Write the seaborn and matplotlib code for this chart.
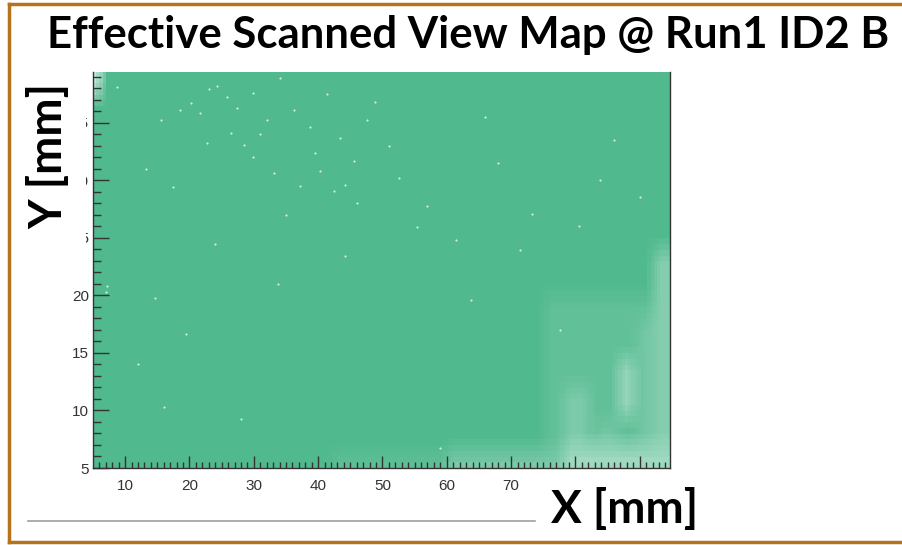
import numpy as np
import pandas as pd
import seaborn as sns
import matplotlib.pyplot as plt
from matplotlib.colors import LinearSegmentedColormap
from matplotlib.patches import Rectangle
from matplotlib.lines import Line2D

# Scan area and binning (mm)
X_RANGE = (5.0, 94.7)
Y_RANGE = (5.0, 39.4)
BIN_MM = 0.5

# Zones with reduced view coverage: x0, x1, y0, y1, fraction covered
zone_x0 = [75.0, 92.0, 89.5, 86.5, 78.0, 42.0, 60.0, 78.0, 83.0, 5.0]
zone_x1 = [94.7, 94.7, 92.0, 89.0, 82.0, 60.0, 78.0, 94.7, 86.5, 5.8]
zone_y0 = [5.0, 5.0, 5.0, 9.5, 5.4, 5.0, 5.0, 5.0, 6.0, 37.4]
zone_y1 = [20.0, 24.0, 18.0, 14.5, 11.8, 6.2, 6.5, 7.0, 9.0, 39.4]
zone_cov = [0.9, 0.7, 0.8, 0.6, 0.75, 0.88, 0.75, 0.55, 0.8, 0.0]

# Isolated missing views (mm)
speck_x = [8.8, 13.2, 37.2, 18.6, 20.2, 21.7, 24.3, 25.9, 27.4, 29.9, 32.1, 34.1,
           36.2, 38.8, 41.4, 43.4, 45.5, 47.6, 22.7, 26.4, 29.9, 33.1, 40.3, 42.4,
           46.1, 17.5, 15.5, 73.3, 44.1, 55.4, 44.1, 14.7, 28.0, 16.0, 59.0, 71.4,
           63.8, 83.8, 77.6, 7.0, 7.2, 51.0, 66.0, 35.0, 24.0, 31.0, 28.5, 23.0,
           39.5, 48.8, 52.5, 57.0, 61.5, 68.0, 80.5, 86.0, 90.0, 12.0, 19.5, 33.8]
speck_y = [38.1, 31.0, 29.5, 36.1, 36.7, 35.8, 38.2, 37.2, 36.3, 37.6, 35.2, 38.9,
           36.1, 34.6, 37.5, 33.7, 31.7, 35.2, 33.2, 34.1, 32.0, 30.6, 30.8, 29.1,
           28.0, 29.4, 35.2, 27.1, 29.6, 25.9, 23.4, 19.8, 9.3, 10.3, 6.7, 23.9,
           19.6, 30.0, 17.0, 20.3, 20.8, 33.0, 35.5, 27.0, 24.5, 34.0, 33.1, 37.9,
           32.4, 36.8, 30.2, 27.8, 24.8, 31.5, 26.0, 33.5, 28.5, 14.0, 16.6, 21.0]

x_ticks = [10, 20, 30, 40, 50, 60, 70, 80, 90]
x_tick_labels = ["10", "20", "30", "40", "50", "60", "70", "", ""]
y_ticks = [5, 10, 15, 20, 25, 30, 35]

GREEN = "#50B98D"
FRAME = "#B5731E"


def box_smooth(a, k):
    """Separable moving-average filter that keeps the grid size."""
    ker = np.ones(k)
    norm_x = np.convolve(np.ones(a.shape[0]), ker, mode="same")
    norm_y = np.convolve(np.ones(a.shape[1]), ker, mode="same")
    a = np.apply_along_axis(lambda v: np.convolve(v, ker, mode="same"), 0, a) / norm_x[:, None]
    a = np.apply_along_axis(lambda v: np.convolve(v, ker, mode="same"), 1, a) / norm_y[None, :]
    return a


# Build the coverage grid
nx = int(round((X_RANGE[1] - X_RANGE[0]) / BIN_MM))
ny = int(round((Y_RANGE[1] - Y_RANGE[0]) / BIN_MM))
x_edges = np.linspace(*X_RANGE, nx + 1)
y_edges = np.linspace(*Y_RANGE, ny + 1)
xc = 0.5 * (x_edges[:-1] + x_edges[1:])
yc = 0.5 * (y_edges[:-1] + y_edges[1:])
gx, gy = np.meshgrid(xc, yc, indexing="ij")
cov = np.ones_like(gx)
for x0, x1, y0, y1, c in zip(zone_x0, zone_x1, zone_y0, zone_y1, zone_cov):
    inside = (gx >= x0) & (gx <= x1) & (gy >= y0) & (gy <= y1)
    cov[inside] = np.minimum(cov[inside], c)
cov = box_smooth(cov, 5)
grid = pd.DataFrame({"x": gx.ravel(), "y": gy.ravel(), "coverage": cov.ravel()})
specks = pd.DataFrame({"x": speck_x, "y": speck_y})

cmap = LinearSegmentedColormap.from_list("cov", ["white", GREEN])

fig = plt.figure(figsize=(9.02, 5.45), dpi=100)
W, H = 902, 545
ax = fig.add_axes([93 / W, 1 - 468 / H, (670 - 93) / W, (468 - 72) / H])

sns.histplot(data=grid, x="x", y="y", weights="coverage", bins=(nx, ny),
             binrange=(X_RANGE, Y_RANGE), cmap=cmap, vmin=0, vmax=1,
             thresh=0, ax=ax)
sns.scatterplot(data=specks, x="x", y="y", color="white", s=2.5, alpha=0.75,
                linewidth=0, ax=ax)

ax.set_xlim(*X_RANGE)
ax.set_ylim(*Y_RANGE)
ax.set_xlabel("")
ax.set_ylabel("")
ax.set_xticks(x_ticks)
ax.set_xticklabels(x_tick_labels)
ax.set_yticks(y_ticks)
ax.set_xticks(np.arange(6, 95, 1), minor=True)
ax.set_yticks(np.arange(5, 40, 1), minor=True)
for lab in ax.get_xticklabels() + ax.get_yticklabels():
    lab.set_fontfamily("Liberation Sans")
    lab.set_fontsize(11)
    lab.set_color("#333333")
ax.tick_params(axis="y", which="major", direction="in", length=11.5, width=1,
               color="#333333", pad=3)
ax.tick_params(axis="y", which="minor", direction="in", length=5.8, width=1,
               color="#333333")
ax.tick_params(axis="x", which="major", direction="in", length=9, width=1,
               color="#333333", pad=8)
ax.tick_params(axis="x", which="minor", direction="in", length=4.5, width=1,
               color="#333333")
ax.spines["top"].set_visible(False)
for s in ("left", "bottom", "right"):
    ax.spines[s].set_color("#333333")
    ax.spines[s].set_linewidth(1)

# Slide furniture: frame, rule, title and axis captions
fig.add_artist(Line2D([9 / W, 9 / W], [1 - 4 / H, 1 - 542 / H], color=FRAME,
                      lw=2.5, transform=fig.transFigure))
fig.add_artist(Line2D([9 / W, 1], [1 - 4 / H, 1 - 4 / H], color=FRAME,
                      lw=2.5, transform=fig.transFigure))
fig.add_artist(Line2D([9 / W, 1], [1 - 542 / H, 1 - 542 / H], color=FRAME,
                      lw=2.5, transform=fig.transFigure))
fig.add_artist(Line2D([28 / W, 535 / W], [1 - 521 / H, 1 - 521 / H],
                      color="#A0A0A0", lw=1.2, transform=fig.transFigure))

# White label box over the upper y tick labels
fig.add_artist(Rectangle((18 / W, 1 - 262 / H), (86 - 18) / W, (262 - 74) / H,
                         transform=fig.transFigure, facecolor="white",
                         edgecolor="none", zorder=5))

fig.text(468 / W, 1 - 35 / H, "Effective Scanned View Map @ Run1 ID2 B",
         ha="center", va="center", fontsize=31.5, fontweight="bold",
         family="Lato", color="black", zorder=6)
fig.text(49 / W, 1 - 156 / H, "Y [mm]", ha="center", va="center", rotation=90,
         fontsize=33, fontweight="bold", family="Lato", color="black", zorder=6)
fig.text(625 / W, 1 - 509 / H, "X [mm]", ha="center", va="center",
         fontsize=33, fontweight="bold", family="Lato", color="black", zorder=6)

fig.savefig("out.png", dpi=100)
